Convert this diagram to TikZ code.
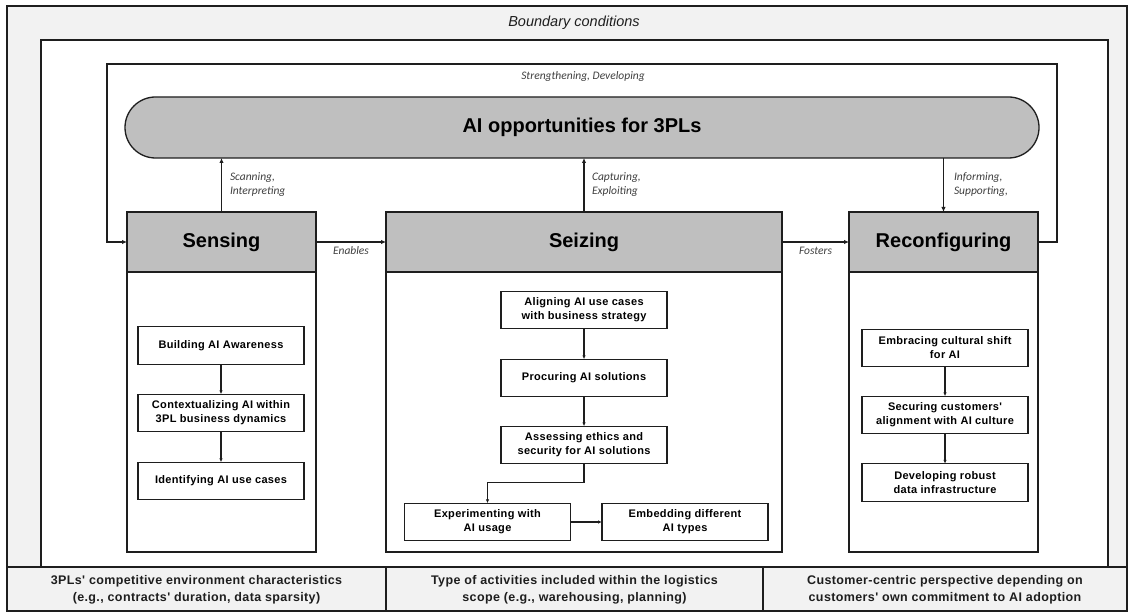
\documentclass[tikz,border=0pt]{standalone}
\usepackage{fontspec}
\setmainfont{Liberation Sans}
\newfontfamily\carl{Carlito}
\newfontfamily\spaced[LetterSpace=3]{Liberation Sans}
\usetikzlibrary{arrows.meta}
\definecolor{bglight}{HTML}{F2F2F2}
\definecolor{hdrgray}{HTML}{BFBFBF}
\definecolor{linec}{HTML}{1E1E1E}
\begin{document}
\begin{tikzpicture}[x=1pt,y=-1pt,
  every node/.style={inner sep=0pt, outer sep=0pt},
  frame/.style={draw=linec, line width=1.3pt},
  bigbox/.style={frame, fill=white, minimum width=189pt, minimum height=340pt},
  hdr/.style={frame, fill=hdrgray, minimum height=60pt, font=\bfseries\fontsize{20}{22}\selectfont},
  inbox/.style={frame, fill=white, minimum width=166pt, minimum height=37.5pt, align=center, font=\spaced\bfseries\fontsize{11}{14}\selectfont},
  lbl/.style={font=\carl\itshape\fontsize{11.5}{14}\selectfont, text=linec!85, align=left},
  arr/.style={draw=linec, line width=1.3pt, -{Latex[length=5pt,width=4.5pt]}},
  iarr/.style={draw=linec, line width=1.1pt, -{Latex[length=4pt,width=3.5pt]}},
  btxt/.style={font=\spaced\bfseries\fontsize{12.5}{16.5}\selectfont, align=center, text=linec}
]
\useasboundingbox (0,0) rectangle (1134,612);
% outer frame
\draw[frame, fill=bglight] (7,6) rectangle (1127,611);
\draw[frame, fill=white] (41,40) rectangle (1108,567);
\draw[frame, fill=bglight] (7,567) rectangle (1127,611);
\draw[frame] (386,567) -- (386,611);
\draw[frame] (763,567) -- (763,611);
\node[font=\itshape\fontsize{14.5}{16}\selectfont, text=linec] (bc) at (574,23) {Boundary conditions};

% bottom texts
\node[btxt] (b1) at (196.5,590) {3PLs' competitive environment characteristics\\(e.g., contracts' duration, data sparsity)};
\node[btxt] (b2) at (574.5,590) {Type of activities included within the logistics\\scope (e.g., warehousing, planning)};
\node[btxt] (b3) at (945,590) {Customer-centric perspective depending on\\customers' own commitment to AI adoption};

% pill
\node[frame, fill=hdrgray, rounded corners=30.5pt, minimum width=914pt, minimum height=61pt,
      font=\bfseries\fontsize{20}{22}\selectfont] (pill) at (582,127.5) {AI opportunities for 3PLs};

% big boxes
\node[bigbox] (sens) at (221.5,382) {};
\node[hdr, minimum width=189pt] (sensh) at (221.5,242) {Sensing};
\node[bigbox, minimum width=396pt] (seiz) at (584,382) {};
\node[hdr, minimum width=396pt] (seizh) at (584,242) {Seizing};
\node[bigbox] (reco) at (943.5,382) {};
\node[hdr, minimum width=189pt] (recoh) at (943.5,242) {Reconfiguring};

% feedback loop
\coordinate (fbR) at (1057,64);
\coordinate (fbL) at (107,64);
\draw[arr] (recoh.east) -| (fbR) -- (fbL) |- (sensh.west);
\node[lbl] (strl) at (583,76) {Strengthening, Developing};

% vertical arrows
\draw[arr] (sensh.north) -- (sensh.north |- pill.south);
\node[lbl, anchor=west] (scanl) at (230,185) {Scanning,\\Interpreting};
\draw[arr] (seizh.north) -- (seizh.north |- pill.south);
\node[lbl, anchor=west] (captl) at (592,185) {Capturing,\\Exploiting};
\draw[arr] (recoh.north |- pill.south) -- (recoh.north);
\node[lbl, anchor=west] (infl) at (954,185) {Informing,\\Supporting,};

% horizontal arrows
\draw[arr] (sensh.east) -- node[lbl, below=5pt] (enl) {Enables} (seizh.west);
\draw[arr] (seizh.east) -- node[lbl, below=5pt] (fosl) {Fosters} (recoh.west);

% sensing inner
\node[inbox] (s1) at (221,345.5) {Building AI Awareness};
\node[inbox] (s2) at (221,413) {Contextualizing AI within\\3PL business dynamics};
\node[inbox] (s3) at (221,481) {Identifying AI use cases};
\draw[iarr] (s1) -- (s2);
\draw[iarr] (s2) -- (s3);

% seizing inner
\node[inbox] (z1) at (584,310) {Aligning AI use cases\\with business strategy};
\node[inbox] (z2) at (584,378) {Procuring AI solutions};
\node[inbox] (z3) at (584,445) {Assessing ethics and\\security for AI solutions};
\node[inbox] (z4) at (487.5,522) {Experimenting with\\AI usage};
\node[inbox] (z5) at (685,522) {Embedding different\\AI types};
\draw[iarr] (z1) -- (z2);
\draw[iarr] (z2) -- (z3);
\draw[iarr] (z3.south) -- ++(0,19) -| (z4.north);
\draw[iarr] (z4) -- (z5);

% reconfiguring inner
\node[inbox] (r1) at (945,348) {Embracing cultural shift\\for AI};
\node[inbox] (r2) at (945,415) {Securing customers'\\alignment with AI culture};
\node[inbox] (r3) at (945,482.5) {Developing robust\\data infrastructure};
\draw[iarr] (r1) -- (r2);
\draw[iarr] (r2) -- (r3);
\end{tikzpicture}
\end{document}
